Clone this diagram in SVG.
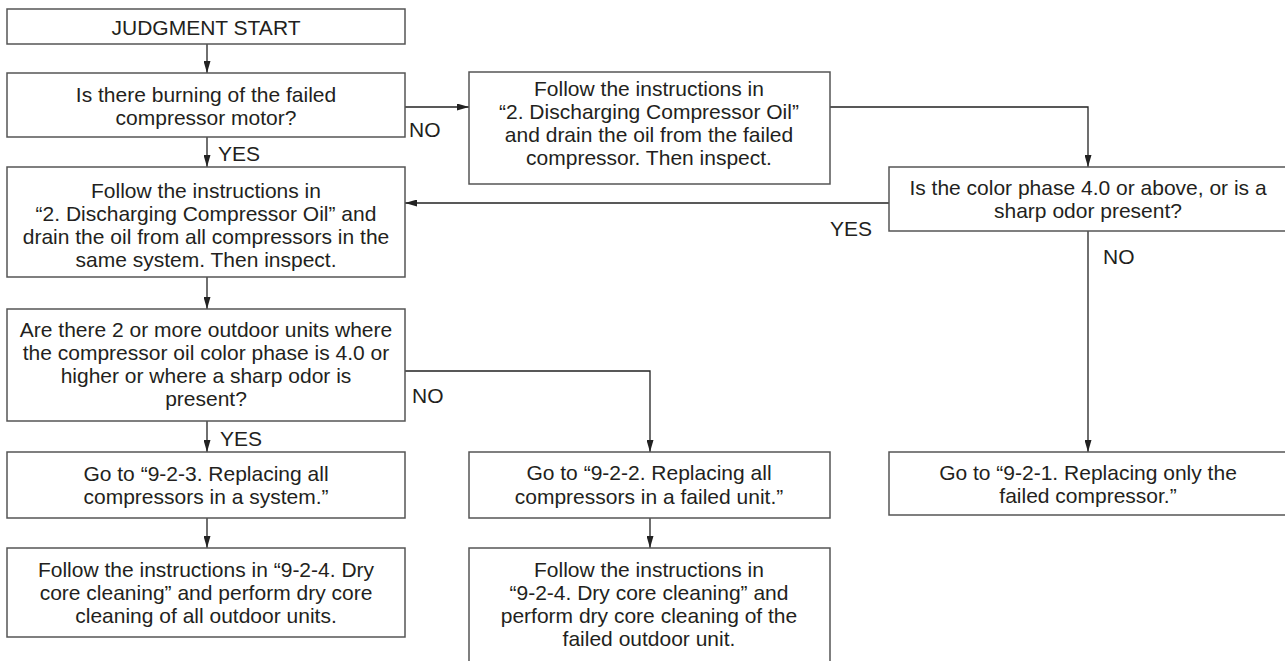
<svg xmlns="http://www.w3.org/2000/svg" width="1285" height="661" viewBox="0 0 1285 661">
<style>
.box{fill:#fff;stroke:#555;stroke-width:1.5}
.t{font-family:"Liberation Sans",Arial,sans-serif;font-size:21px;fill:#231f20;text-anchor:middle}
.l{font-family:"Liberation Sans",Arial,sans-serif;font-size:21px;fill:#231f20}
.c{fill:none;stroke:#222;stroke-width:1.3}
</style>
<defs>
<marker id="ah" markerUnits="userSpaceOnUse" markerWidth="12" markerHeight="7" refX="12" refY="3.5" viewBox="0 0 12 7" orient="auto">
<path d="M0,0 L12,3.5 L0,7 Z" fill="#222"/>
</marker>
</defs>
<rect width="1285" height="661" fill="#fff"/>
<g id="connectors">
<path class="c" d="M207,44 V73" marker-end="url(#ah)"/>
<path class="c" d="M207,137 V167" marker-end="url(#ah)"/>
<path class="c" d="M405,107 H469" marker-end="url(#ah)"/>
<path class="c" d="M830,107 H1088 V167" marker-end="url(#ah)"/>
<path class="c" d="M889,203 H405" marker-end="url(#ah)"/>
<path class="c" d="M1088,231 V452" marker-end="url(#ah)"/>
<path class="c" d="M207,277 V309" marker-end="url(#ah)"/>
<path class="c" d="M207,421 V452" marker-end="url(#ah)"/>
<path class="c" d="M405,371 H650 V452" marker-end="url(#ah)"/>
<path class="c" d="M207,518 V548" marker-end="url(#ah)"/>
<path class="c" d="M650,518 V548" marker-end="url(#ah)"/>
<text class="l" x="409" y="137">NO</text>
<text class="l" x="218" y="161">YES</text>
<text class="l" x="830" y="236">YES</text>
<text class="l" x="1103" y="264">NO</text>
<text class="l" x="412" y="403">NO</text>
<text class="l" x="220" y="446">YES</text>
</g>
<g id="start">
<rect class="box" x="7" y="9" width="398" height="35"/>
<text class="t" x="206" y="35">JUDGMENT START</text>
</g>
<g id="q-burning">
<rect class="box" x="7" y="73" width="398" height="64"/>
<text class="t" x="206" y="102">Is there burning of the failed</text>
<text class="t" x="206" y="125">compressor motor?</text>
</g>
<g id="drain-all">
<rect class="box" x="7" y="167" width="398" height="110"/>
<text class="t" x="206" y="198">Follow the instructions in</text>
<text class="t" x="206" y="221">“2. Discharging Compressor Oil” and</text>
<text class="t" x="206" y="244">drain the oil from all compressors in the</text>
<text class="t" x="206" y="267">same system. Then inspect.</text>
</g>
<g id="q-two-or-more">
<rect class="box" x="7" y="309" width="398" height="112"/>
<text class="t" x="206" y="337">Are there 2 or more outdoor units where</text>
<text class="t" x="206" y="360">the compressor oil color phase is 4.0 or</text>
<text class="t" x="206" y="383">higher or where a sharp odor is</text>
<text class="t" x="206" y="406">present?</text>
</g>
<g id="replace-system">
<rect class="box" x="7" y="452" width="398" height="66"/>
<text class="t" x="206" y="481">Go to “9-2-3. Replacing all</text>
<text class="t" x="206" y="504">compressors in a system.”</text>
</g>
<g id="clean-all">
<rect class="box" x="7" y="548" width="398" height="89"/>
<text class="t" x="206" y="577">Follow the instructions in “9-2-4. Dry</text>
<text class="t" x="206" y="600">core cleaning” and perform dry core</text>
<text class="t" x="206" y="623">cleaning of all outdoor units.</text>
</g>
<g id="drain-failed">
<rect class="box" x="469" y="72" width="361" height="112"/>
<text class="t" x="649" y="96">Follow the instructions in</text>
<text class="t" x="649" y="119">“2. Discharging Compressor Oil”</text>
<text class="t" x="649" y="142">and drain the oil from the failed</text>
<text class="t" x="649" y="165">compressor. Then inspect.</text>
</g>
<g id="q-color-phase">
<rect class="box" x="889" y="167" width="399" height="64"/>
<text class="t" x="1088" y="195">Is the color phase 4.0 or above, or is a</text>
<text class="t" x="1088" y="218">sharp odor present?</text>
</g>
<g id="replace-unit">
<rect class="box" x="469" y="452" width="361" height="66"/>
<text class="t" x="649" y="480">Go to “9-2-2. Replacing all</text>
<text class="t" x="649" y="504">compressors in a failed unit.”</text>
</g>
<g id="clean-failed">
<rect class="box" x="469" y="548" width="361" height="130"/>
<text class="t" x="649" y="577">Follow the instructions in</text>
<text class="t" x="649" y="600">“9-2-4. Dry core cleaning” and</text>
<text class="t" x="649" y="623">perform dry core cleaning of the</text>
<text class="t" x="649" y="646">failed outdoor unit.</text>
</g>
<g id="replace-only">
<rect class="box" x="889" y="452" width="399" height="63"/>
<text class="t" x="1088" y="480">Go to “9-2-1. Replacing only the</text>
<text class="t" x="1088" y="503">failed compressor.”</text>
</g>
</svg>
